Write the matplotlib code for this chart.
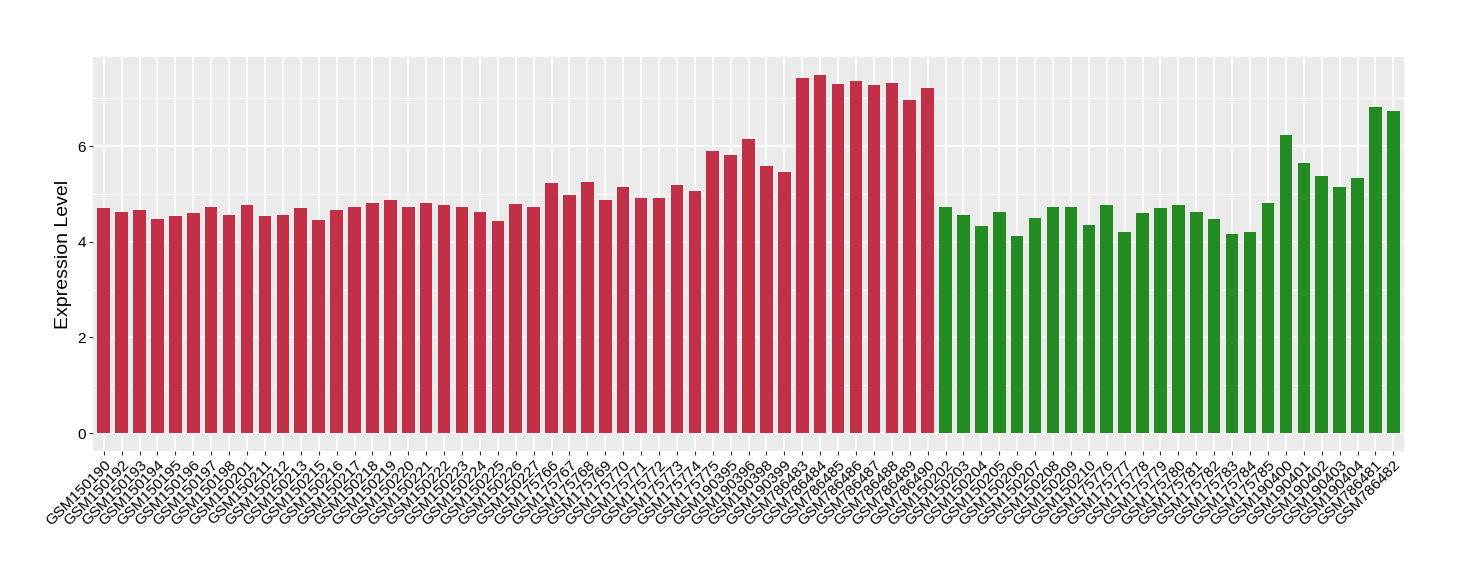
import matplotlib
matplotlib.use('Agg')
import matplotlib.pyplot as plt
import numpy as np

plt.rcParams['font.family'] = ['Liberation Sans', 'DejaVu Sans']

# 第一组样本（红色）
red_samples = ['GSM150190', 'GSM150192', 'GSM150193', 'GSM150194', 'GSM150195', 'GSM150196',
               'GSM150197', 'GSM150198', 'GSM150201', 'GSM150211', 'GSM150212', 'GSM150213',
               'GSM150215', 'GSM150216', 'GSM150217', 'GSM150218', 'GSM150219', 'GSM150220',
               'GSM150221', 'GSM150222', 'GSM150223', 'GSM150224', 'GSM150225', 'GSM150226',
               'GSM150227', 'GSM175766', 'GSM175767', 'GSM175768', 'GSM175769', 'GSM175770',
               'GSM175771', 'GSM175772', 'GSM175773', 'GSM175774', 'GSM175775', 'GSM190395',
               'GSM190396', 'GSM190398', 'GSM190399', 'GSM786483', 'GSM786484', 'GSM786485',
               'GSM786486', 'GSM786487', 'GSM786488', 'GSM786489', 'GSM786490']
red_values = [4.70, 4.63, 4.67, 4.47, 4.53, 4.60, 4.72, 4.57, 4.78, 4.55, 4.57, 4.70,
              4.45, 4.67, 4.73, 4.82, 4.88, 4.73, 4.82, 4.76, 4.73, 4.63, 4.43, 4.80,
              4.72, 5.22, 4.97, 5.26, 4.88, 5.15, 4.91, 4.91, 5.19, 5.06, 5.90, 5.82,
              6.15, 5.59, 5.46, 7.43, 7.49, 7.30, 7.36, 7.28, 7.32, 6.97, 7.22]

# 第二组样本（绿色）
green_samples = ['GSM150202', 'GSM150203', 'GSM150204', 'GSM150205', 'GSM150206', 'GSM150207',
                 'GSM150208', 'GSM150209', 'GSM150210', 'GSM175776', 'GSM175777', 'GSM175778',
                 'GSM175779', 'GSM175780', 'GSM175781', 'GSM175782', 'GSM175783', 'GSM175784',
                 'GSM175785', 'GSM190400', 'GSM190401', 'GSM190402', 'GSM190403', 'GSM190404',
                 'GSM786481', 'GSM786482']
green_values = [4.73, 4.56, 4.33, 4.63, 4.13, 4.50, 4.73, 4.72, 4.36, 4.78, 4.21, 4.60,
                4.70, 4.78, 4.62, 4.48, 4.17, 4.21, 4.82, 6.23, 5.65, 5.38, 5.15, 5.33,
                6.82, 6.73]

red_color = '#C13047'
green_color = '#228B22'

labels = red_samples + green_samples
values = red_values + green_values
colors = [red_color] * len(red_values) + [green_color] * len(green_values)
x = np.arange(len(labels))

fig = plt.figure(figsize=(14.6, 5.8), dpi=100)
ax = fig.add_axes([0.0637, 0.2224, 0.898, 0.6793])
ax.set_facecolor('#EBEBEB')

# 网格线（仿 ggplot 风格）
for v in [1, 3, 5, 7]:
    ax.axhline(v, color='white', lw=0.6, zorder=0)
for v in [0, 2, 4, 6]:
    ax.axhline(v, color='white', lw=1.2, zorder=0)
for xi in x:
    ax.axvline(xi, color='white', lw=1.2, zorder=0)

ax.bar(x, values, width=0.7, color=colors, zorder=2)

ymax = max(values)
ax.set_ylim(-0.05 * ymax, ymax * 1.05)
ax.set_xlim(-0.6, len(labels) - 0.4)
ax.set_yticks([0, 2, 4, 6])
ax.set_yticklabels(['0', '2', '4', '6'], fontsize=11)
ax.set_xticks(x)
ax.set_xticklabels(labels, rotation=45, ha='right', va='top',
                   rotation_mode='anchor', fontsize=11)
ax.tick_params(axis='both', length=3, color='#333333', width=0.8, pad=2)
ax.set_ylabel('Expression Level', fontsize=14)

for s in ax.spines.values():
    s.set_visible(False)

fig.savefig('out.png', dpi=100)
